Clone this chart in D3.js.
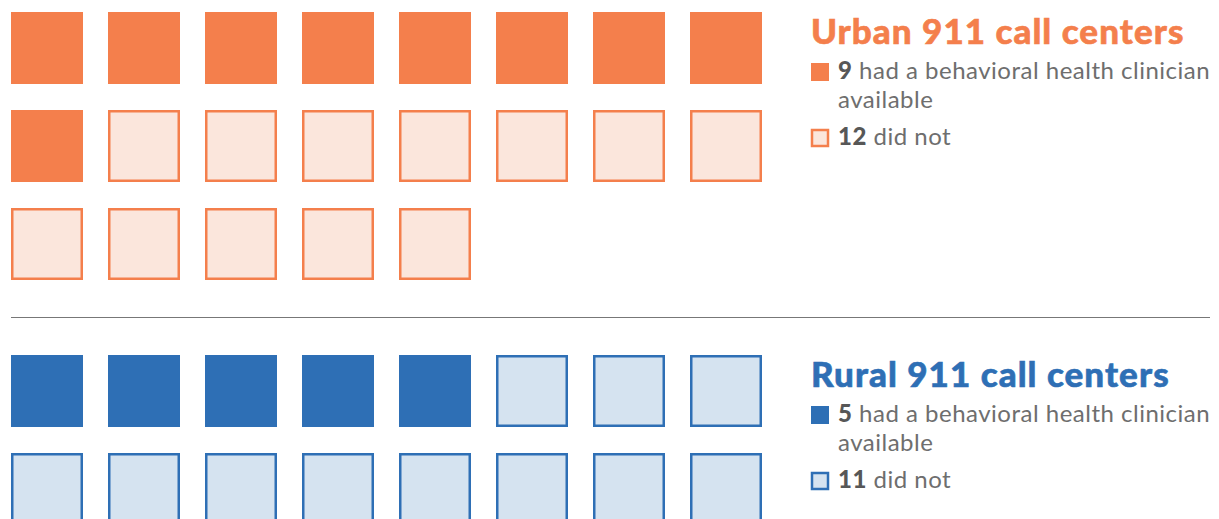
<!DOCTYPE html>
<html>
<head>
<meta charset="utf-8">
<script src="https://cdn.jsdelivr.net/npm/d3@7"></script>
<style>
  html, body { margin: 0; padding: 0; background: #fff; }
  svg { display: block; font-family: Lato, "Open Sans", sans-serif; }
</style>
</head>
<body>
<div id="chart"></div>
<script>
// data
var groups = ["Urban 911 call centers", "Rural 911 call centers"];
var hadClinician = [9, 5];
var didNot = [12, 11];
var legendLabels = ["had a behavioral health clinician", "available", "did not"];

var width = 1219, height = 519;
var cols = 8, size = 72;

var colors = [
  { dark: "#f47f4c", light: "#fbe6dc" },
  { dark: "#2e6fb5", light: "#d5e3f0" }
];
var tops = [12, 355];

var svg = d3.select("#chart").append("svg")
  .attr("width", width)
  .attr("height", height);

var x = d3.scaleLinear().domain([0, cols - 1]).range([11, 690]);
var y = d3.scaleLinear().domain([0, 1]).range([0, 98]);

groups.forEach(function(name, gi) {
  var n = hadClinician[gi] + didNot[gi];
  var cells = d3.range(n).map(function(i) {
    return { col: i % cols, row: Math.floor(i / cols), on: i < hadClinician[gi] };
  });
  var c = colors[gi];
  var g = svg.append("g").attr("transform", "translate(0," + tops[gi] + ")");

  g.selectAll("rect.cell")
    .data(cells)
    .enter().append("rect")
    .attr("class", "cell")
    .attr("x", function(d) { return d.on ? x(d.col) : x(d.col) + 1.25; })
    .attr("y", function(d) { return d.on ? y(d.row) : y(d.row) + 1.25; })
    .attr("width", function(d) { return d.on ? size : size - 2.5; })
    .attr("height", function(d) { return d.on ? size : size - 2.5; })
    .attr("fill", function(d) { return d.on ? c.dark : c.light; })
    .attr("stroke", function(d) { return d.on ? "none" : c.dark; })
    .attr("stroke-width", 2.5);

  // title + legend
  var lg = g.append("g").attr("transform", "translate(811,0)");
  lg.append("text")
    .attr("x", 0).attr("y", 32)
    .attr("fill", c.dark)
    .attr("stroke", c.dark).attr("stroke-width", 0.6)
    .style("font-size", "35px")
    .style("font-weight", 900)
    .style("letter-spacing", "1.05px")
    .text(name);

  lg.append("rect")
    .attr("x", 0).attr("y", 51)
    .attr("width", 18).attr("height", 18)
    .attr("fill", c.dark);
  var t1 = lg.append("text").attr("x", 27).attr("y", 67)
    .attr("fill", "#6e6e6e").style("font-size", "24px")
    .style("letter-spacing", "0.5px");
  t1.append("tspan").attr("font-weight", 900).attr("fill", "#575757").text(hadClinician[gi]);
  t1.append("tspan").text(" " + legendLabels[0]);
  lg.append("text").attr("x", 27).attr("y", 96)
    .attr("fill", "#6e6e6e").style("font-size", "24px")
    .style("letter-spacing", "0.5px")
    .text(legendLabels[1]);

  lg.append("rect")
    .attr("x", 1).attr("y", 118)
    .attr("width", 16).attr("height", 16)
    .attr("fill", c.light)
    .attr("stroke", c.dark).attr("stroke-width", 2.5);
  var t2 = lg.append("text").attr("x", 27).attr("y", 133)
    .attr("fill", "#6e6e6e").style("font-size", "24px")
    .style("letter-spacing", "0.5px");
  t2.append("tspan").attr("font-weight", 900).attr("fill", "#575757").text(didNot[gi]);
  t2.append("tspan").text(" " + legendLabels[2]);
});

// separator
svg.append("line")
  .attr("x1", 11).attr("x2", 1210)
  .attr("y1", 317.5).attr("y2", 317.5)
  .attr("stroke", "#777").attr("stroke-width", 1.2);
</script>
</body>
</html>
